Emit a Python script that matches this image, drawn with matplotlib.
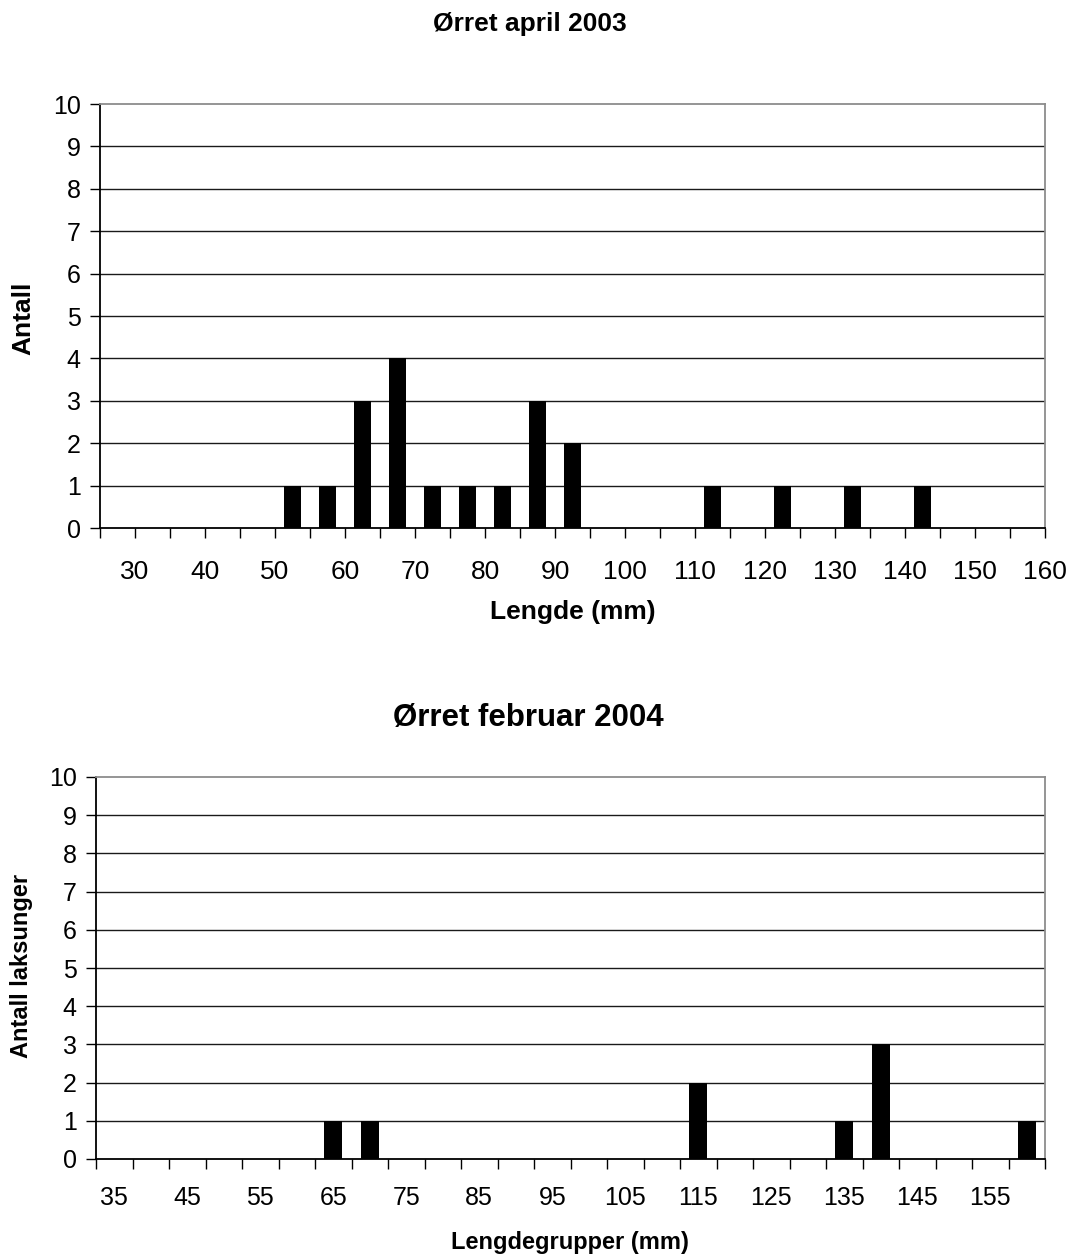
import matplotlib
matplotlib.use("Agg")
import matplotlib.pyplot as plt
from matplotlib.ticker import FixedLocator, NullFormatter

plt.rcParams['font.family'] = ['Liberation Sans', 'DejaVu Sans']

# Ørret april 2003 - 5 mm length classes (lower bound) and counts
april_bins = [50, 55, 60, 65, 70, 75, 80, 85, 90, 110, 120, 130, 140]
april_counts = [1, 1, 3, 4, 1, 1, 1, 3, 2, 1, 1, 1, 1]
april_labels = [30, 40, 50, 60, 70, 80, 90, 100, 110, 120, 130, 140, 150, 160]

# Ørret februar 2004 - length groups and counts
feb_groups = [65, 70, 115, 135, 140, 160]
feb_counts = [1, 1, 2, 1, 3, 1]
feb_labels = [35, 45, 55, 65, 75, 85, 95, 105, 115, 125, 135, 145, 155]

W, H = 1077, 1255
fig = plt.figure(figsize=(W / 100, H / 100), dpi=100)


def px_axes(left, top, right, bottom):
    return fig.add_axes([left / W, 1 - bottom / H, (right - left) / W, (bottom - top) / H])


def style(ax):
    ax.set_ylim(0, 10)
    ax.set_yticks(range(0, 11))
    for y in range(1, 10):
        ax.axhline(y, color='#1a1a1a', lw=1.0, zorder=1)
    ax.spines['left'].set_color('black')
    ax.spines['bottom'].set_color('black')
    ax.spines['top'].set_color('#8c8c8c')
    ax.spines['right'].set_color('#8c8c8c')
    for s in ax.spines.values():
        s.set_linewidth(1.3)
    ax.tick_params(axis='y', direction='out', length=7, width=1, pad=7, labelsize=18)


# top chart
ax1 = px_axes(100, 104, 1045, 528)
ax1.bar([b + 2.5 for b in april_bins], april_counts, width=2.4, color='black', zorder=3)
ax1.set_xlim(25, 160)
style(ax1)
ax1.set_xticks(list(range(25, 161, 5)))
ax1.set_xticklabels([str(v) if v in april_labels else '' for v in range(25, 161, 5)])
ax1.tick_params(axis='x', direction='out', length=7, width=1, pad=16, labelsize=19)

fig.text(530 / W, 1 - 24 / H, 'Ørret april 2003', ha='center', va='center',
         fontsize=19, fontweight='bold')
fig.text(573 / W, 1 - 612 / H, 'Lengde (mm)', ha='center', va='center',
         fontsize=19, fontweight='bold')
fig.text(23 / W, 1 - 318 / H, 'Antall', ha='center', va='center', rotation=90,
         fontsize=19, fontweight='bold')

# bottom chart
ax2 = px_axes(96, 777, 1045, 1159)
ax2.bar(feb_groups, feb_counts, width=2.4, color='black', zorder=3)
ax2.set_xlim(32.5, 162.5)
style(ax2)
ax2.set_xticks(feb_labels)
ax2.xaxis.set_minor_locator(FixedLocator([32.5 + 5 * k for k in range(27)]))
ax2.xaxis.set_minor_formatter(NullFormatter())
ax2.tick_params(axis='x', which='major', length=0, pad=19.5, labelsize=18)
ax2.tick_params(axis='x', which='minor', direction='out', length=7, width=1)

fig.text(528 / W, 1 - 718 / H, 'Ørret februar 2004', ha='center', va='center',
         fontsize=22.5, fontweight='bold')
fig.text(570 / W, 1 - 1242 / H, 'Lengdegrupper (mm)', ha='center', va='center',
         fontsize=17, fontweight='bold')
fig.text(22 / W, 1 - 966 / H, 'Antall laksunger', ha='center', va='center', rotation=90,
         fontsize=17, fontweight='bold')

fig.savefig('out.png', dpi=100)
